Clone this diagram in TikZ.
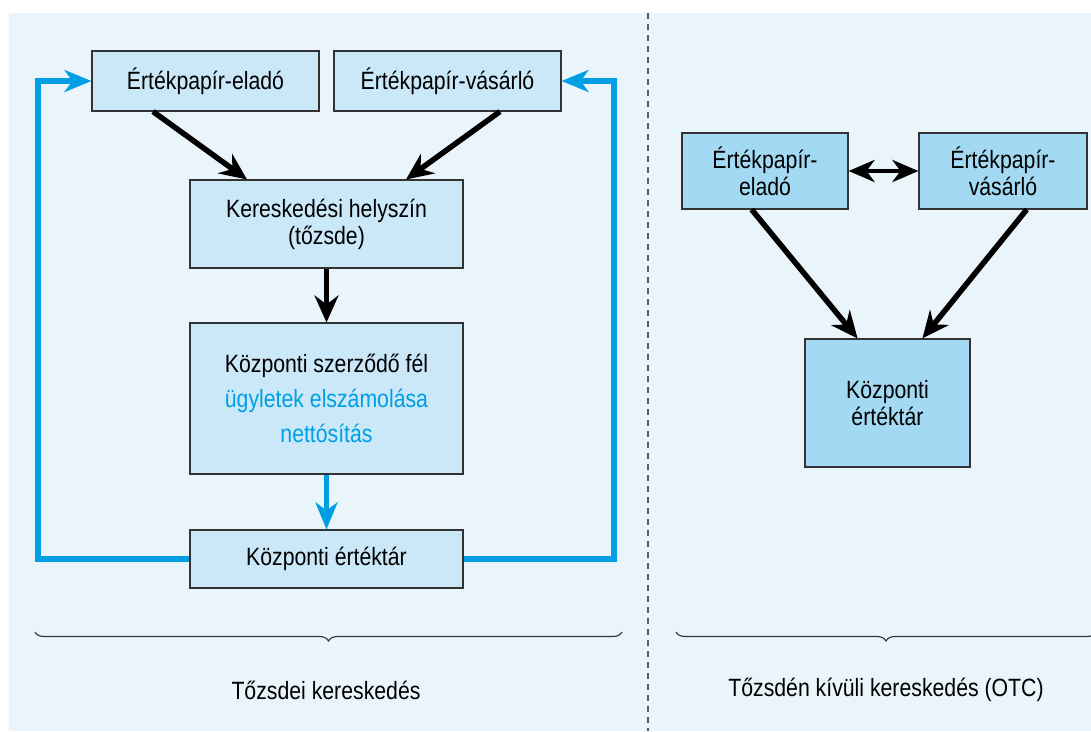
\documentclass[tikz,border=0pt]{standalone}
\usepackage{fontspec}
\setmainfont{Liberation Sans}[FakeStretch=0.85]
\usetikzlibrary{arrows.meta,calc,decorations.pathreplacing}
\definecolor{bgblue}{HTML}{EAF4FB}
\definecolor{boxlight}{HTML}{CAE8F8}
\definecolor{boxdark}{HTML}{A4D9F3}
\definecolor{accent}{HTML}{009FE3}
\definecolor{edge}{HTML}{333333}
\begin{document}
\begin{tikzpicture}[x=1pt,y=-1pt,
  box/.style={draw=edge,line width=1.1pt,fill=boxlight,inner sep=0pt,align=center,
    font=\fontsize{25}{27}\selectfont},
  rbox/.style={box,fill=boxdark},
  blk/.style={line width=5.5pt,-{Stealth[length=27pt,width=24pt,inset=9pt]}},
  blu/.style={line width=5.5pt,draw=accent,-{Stealth[length=27pt,width=22pt,inset=8pt]}},
  loop/.style={line width=5.5pt,draw=accent,-{Stealth[length=27pt,width=22pt,inset=8pt]}},
  dbl/.style={line width=4.5pt,{Stealth[length=26pt,width=22pt,inset=8pt]}-{Stealth[length=26pt,width=22pt,inset=8pt]}},
  brc/.style={draw=edge,line width=1.1pt,decorate,decoration={brace,amplitude=9pt}},
  lbl/.style={font=\fontsize{25}{27}\selectfont}]
\useasboundingbox (0,0) rectangle (1091,731);
\fill[bgblue] (9,13) rectangle (1091,731);
\draw[edge!80,line width=1.5pt,dash pattern=on 6pt off 5pt] (648,13) -- (648,731);

% left side
\node[box,minimum width=227pt,minimum height=60pt] (sell) at (205.5,81) {Értékpapír-eladó};
\node[box,minimum width=227pt,minimum height=60pt] (buy) at (447.5,81) {Értékpapír-vásárló};
\node[box,minimum width=273pt,minimum height=88pt] (venue) at (326.5,224) {Kereskedési helyszín\\(tőzsde)};
\node[box,minimum width=273pt,minimum height=151pt] (ccp) at (326.5,398.5) {Központi szerződő fél\\[8pt]\textcolor{accent}{ügyletek elszámolása}\\[8pt]\textcolor{accent}{nettósítás}};
\node[box,minimum width=273pt,minimum height=58pt] (csd) at (326.5,559) {Központi értéktár};

\draw[blk] ($(sell.south west)!0.27!(sell.south east)$) -- ($(venue.north west)!0.21!(venue.north east)$);
\draw[blk] ($(buy.south west)!0.73!(buy.south east)$) -- ($(venue.north west)!0.79!(venue.north east)$);
\draw[blk] (venue.south) -- (ccp.north);
\draw[blu] (ccp.south) -- (csd.north);

\coordinate (lb) at (38,559);
\coordinate (lt) at (38,81);
\coordinate (rb) at (614,559);
\coordinate (rt) at (614,81);
\draw[loop] (csd.west) -- (lb) -- (lt) -- (sell.west);
\draw[loop] (csd.east) -- (rb) -- (rt) -- (buy.east);

\coordinate (lbr1) at (622,632);
\coordinate (lbr2) at (35,632);
\draw[brc] (lbr1) -- (lbr2);
\node[lbl] (ltxt) at (326,690) {Tőzsdei kereskedés};

% right side
\node[rbox,minimum width=166pt,minimum height=76pt] (rsell) at (765,171) {Értékpapír-\\eladó};
\node[rbox,minimum width=168pt,minimum height=76pt] (rbuy) at (1003,171) {Értékpapír-\\vásárló};
\node[rbox,minimum width=165pt,minimum height=128pt] (rcsd) at (887.5,403) {Központi\\értéktár};

\draw[dbl] (rsell.east) -- (rbuy.west);
\draw[blk] ($(rsell.south west)!0.42!(rsell.south east)$) -- ($(rcsd.north west)!0.32!(rcsd.north east)$);
\draw[blk] ($(rbuy.south west)!0.64!(rbuy.south east)$) -- ($(rcsd.north west)!0.71!(rcsd.north east)$);

\coordinate (rbr1) at (1096,632);
\coordinate (rbr2) at (676,632);
\begin{scope}
\clip (0,0) rectangle (1091,731);
\draw[brc] (rbr1) -- (rbr2);
\end{scope}
\node[lbl] (rtxt) at (886,690) {Tőzsdén kívüli kereskedés (OTC)};
\end{tikzpicture}
\end{document}
